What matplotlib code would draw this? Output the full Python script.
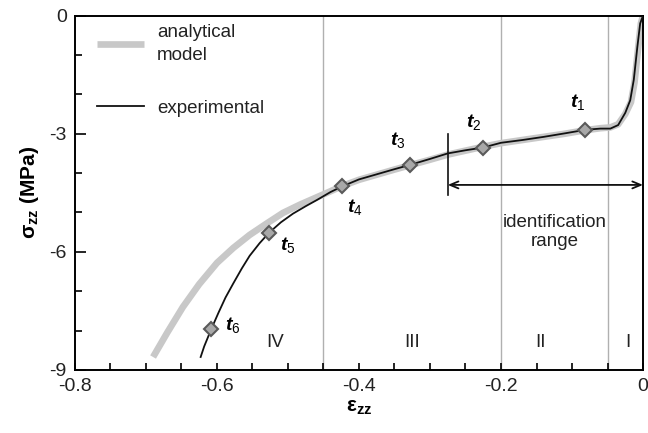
"""
Stress-strain curve: analytical model vs experimental, with the four regions
and the identification range.
"""
import numpy as np
import matplotlib
matplotlib.use("Agg")
import matplotlib.pyplot as plt
from matplotlib.ticker import MultipleLocator

plt.rcParams["font.family"] = ["Liberation Sans", "DejaVu Sans"]
plt.rcParams["mathtext.fontset"] = "custom"
plt.rcParams["mathtext.rm"] = "Liberation Sans"
plt.rcParams["mathtext.bf"] = "Liberation Sans:bold"
plt.rcParams["mathtext.it"] = "Liberation Sans:italic:bold"
plt.rcParams["axes.unicode_minus"] = False

# ── data ─────────────────────────────────────────────────────────────────
exp_eps = [-0.623, -0.618, -0.608, -0.598, -0.588, -0.577, -0.565, -0.554,
           -0.540, -0.527, -0.510, -0.493, -0.475, -0.459, -0.440, -0.424,
           -0.400, -0.375, -0.350, -0.328, -0.300, -0.275, -0.250, -0.225,
           -0.200, -0.170, -0.140, -0.110, -0.081, -0.060, -0.046, -0.035,
           -0.025, -0.018, -0.013, -0.008, -0.004, 0.000]
exp_sig = [-8.67, -8.40, -7.96, -7.55, -7.16, -6.80, -6.42, -6.10,
           -5.78, -5.52, -5.25, -5.03, -4.84, -4.68, -4.48, -4.34,
           -4.16, -4.03, -3.90, -3.79, -3.64, -3.50, -3.42, -3.35,
           -3.23, -3.16, -3.08, -2.99, -2.90, -2.87, -2.87, -2.78,
           -2.47, -2.15, -1.63, -0.80, -0.20, 0.00]

mod_eps = [-0.690, -0.670, -0.648, -0.625, -0.600, -0.577, -0.554, -0.530,
           -0.507, -0.483, -0.459, -0.440, -0.424, -0.400, -0.375, -0.350,
           -0.328, -0.300, -0.275, -0.250, -0.225, -0.200, -0.170, -0.140,
           -0.110, -0.081, -0.060, -0.046, -0.035, -0.025, -0.017, -0.012,
           -0.007, -0.003, 0.000]
mod_sig = [-8.67, -8.05, -7.40, -6.82, -6.28, -5.90, -5.57, -5.28,
           -5.01, -4.80, -4.61, -4.46, -4.33, -4.17, -4.04, -3.91,
           -3.80, -3.66, -3.53, -3.43, -3.33, -3.24, -3.16, -3.08,
           -3.00, -2.91, -2.86, -2.84, -2.76, -2.50, -2.20, -1.70,
           -0.85, -0.20, 0.00]

t_names = ["1", "2", "3", "4", "5", "6"]
t_eps = [-0.081, -0.225, -0.328, -0.424, -0.527, -0.608]
t_sig = [-2.90, -3.35, -3.79, -4.34, -5.52, -7.96]
t_lab_eps = [-0.092, -0.239, -0.346, -0.406, -0.500, -0.578]
t_lab_sig = [-2.20, -2.70, -3.16, -4.86, -5.83, -7.86]

bounds = [-0.45, -0.2, -0.05]
regions = ["IV", "III", "II", "I"]
region_eps = [-0.518, -0.325, -0.145, -0.022]
region_sig = -8.3

ident_start = -0.275
ident_end = 0.0

# ── figure ───────────────────────────────────────────────────────────────
fig, ax = plt.subplots(figsize=(6.48, 4.33), dpi=100)
fig.subplots_adjust(left=0.1157, right=0.9923, bottom=0.1455, top=0.964)

for b in bounds:
    ax.axvline(b, color="#b0b0b0", lw=1.0, zorder=1)

ax.plot(mod_eps, mod_sig, color="#c8c8c8", lw=4.8, solid_capstyle="butt",
        label="analytical\nmodel", zorder=2)
ax.plot(exp_eps, exp_sig, color="#111111", lw=1.3, label="experimental", zorder=3)
ax.plot(t_eps, t_sig, "D", ms=7.5, mfc="#a8a8a8", mec="#5a5a5a", mew=1.5,
        zorder=4)

for name, x, y in zip(t_names, t_lab_eps, t_lab_sig):
    ax.text(x, y, rf"$\mathit{{t_{name}}}$", fontsize=14, ha="center",
            va="center")

for lab, x in zip(regions, region_eps):
    ax.text(x, region_sig, lab, fontsize=13.5, ha="center", va="center",
            color="#222222")

# identification range
ax.plot([ident_start, ident_start], [-3.0, -4.56], color="#111111", lw=1.2)
ax.annotate("", xy=(ident_end, -4.3), xytext=(ident_start, -4.3),
            arrowprops=dict(arrowstyle="<->,head_length=0.6,head_width=0.25",
                            color="#111111", lw=1.3, shrinkA=0, shrinkB=0))
ax.text(-0.124, -5.5, "identification\nrange", fontsize=13.5, ha="center",
        va="center", color="#222222")

ax.set_xlim(-0.8, 0)
ax.set_ylim(-9, 0)
ax.set_xticks([-0.8, -0.6, -0.4, -0.2, 0])
ax.set_xticklabels(["-0.8", "-0.6", "-0.4", "-0.2", "0"])
ax.set_yticks([-9, -6, -3, 0])
ax.set_yticklabels(["-9", "-6", "-3", "0"])
ax.xaxis.set_minor_locator(MultipleLocator(0.05))
ax.yaxis.set_minor_locator(MultipleLocator(1))
ax.tick_params(which="both", direction="in", labelsize=14, width=1.2,
               top=False, right=False, pad=6, labelcolor="#222222")
ax.tick_params(axis="x", which="major", length=5)
ax.tick_params(axis="x", which="minor", length=5)
ax.tick_params(axis="y", which="major", length=8)
ax.tick_params(axis="y", which="minor", length=5)
for s in ax.spines.values():
    s.set_linewidth(1.4)

ax.set_xlabel(r"$\mathbf{\epsilon_{zz}}$", fontsize=15, labelpad=2)
ax.set_ylabel(r"$\mathbf{\sigma_{zz}}$ (MPa)", fontsize=15, fontweight="bold",
              labelpad=6)

leg = ax.legend(loc="upper left", bbox_to_anchor=(0.039, 0.975), frameon=False,
                fontsize=13.5, handlelength=2.5, handletextpad=0.7,
                labelspacing=1.9, borderpad=0, borderaxespad=0)
for t in leg.get_texts():
    t.set_color("#222222")
    t.set_linespacing(1.45)

fig.savefig("out.png", dpi=100)
plt.close(fig)
